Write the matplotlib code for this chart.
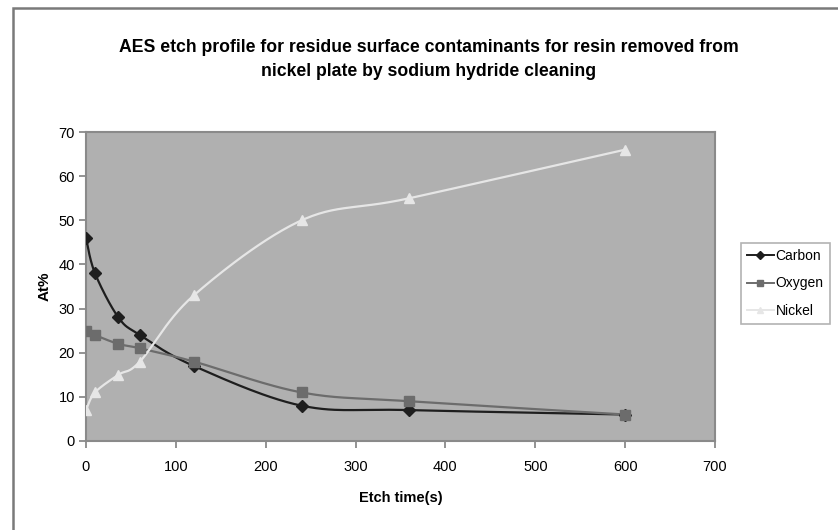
import numpy as np
import matplotlib
matplotlib.use('Agg')
import matplotlib.pyplot as plt
from matplotlib.patches import Rectangle

plt.rcParams['font.family'] = ['Liberation Sans', 'DejaVu Sans']

# etch time (s) and atomic %
etch_time = [0, 10, 36, 60, 120, 240, 360, 600]
carbon = [46, 38, 28, 24, 17, 8, 7, 6]
oxygen = [25, 24, 22, 21, 18, 11, 9, 6]
nickel = [7, 11, 15, 18, 33, 50, 55, 66]

title = ('AES etch profile for residue surface contaminants for resin removed from\n'
         'nickel plate by sodium hydride cleaning')


def smooth(x, y, n=30):
    # excel style smoothed line (catmull-rom through the points)
    x = np.asarray(x, float)
    y = np.asarray(y, float)
    px = np.concatenate([[x[0]], x, [x[-1]]])
    py = np.concatenate([[y[0]], y, [y[-1]]])
    xs, ys = [], []
    t = np.linspace(0, 1, n)
    for i in range(1, len(px) - 2):
        c1x = px[i] + (px[i + 1] - px[i - 1]) / 6
        c1y = py[i] + (py[i + 1] - py[i - 1]) / 6
        c2x = px[i + 1] - (px[i + 2] - px[i]) / 6
        c2y = py[i + 1] - (py[i + 2] - py[i]) / 6
        a = (1 - t) ** 3
        b = 3 * (1 - t) ** 2 * t
        c = 3 * (1 - t) * t ** 2
        d = t ** 3
        xs.extend(a * px[i] + b * c1x + c * c2x + d * px[i + 1])
        ys.extend(a * py[i] + b * c1y + c * c2y + d * py[i + 1])
    return xs, ys


fig = plt.figure(figsize=(8.38, 5.3), dpi=100)
ax = fig.add_axes([86 / 838, 1 - 441 / 530, 629 / 838, 309 / 530])
ax.set_facecolor('#b0b0b0')

series = [
    ('Carbon', carbon, '#1e1e1e', 'D', 6),
    ('Oxygen', oxygen, '#6c6c6c', 's', 6.5),
    ('Nickel', nickel, '#e6e6e6', '^', 7),
]
for name, vals, col, mk, ms in series:
    sx, sy = smooth(etch_time, vals)
    ax.plot(sx, sy, color=col, lw=1.6, zorder=3)
    ax.plot(etch_time, vals, ls='none', marker=mk, ms=ms, color=col, zorder=4)
    ax.plot([], [], color=col, lw=1.4, marker=mk, ms=ms - 2, label=name)

ax.set_xlim(0, 700)
ax.set_ylim(0, 70)
ax.set_xticks(range(0, 701, 100))
ax.set_yticks(range(0, 71, 10))
ax.tick_params(labelsize=10.5, length=5, color='#808080', width=1.2)
ax.tick_params(axis='x', pad=9)
ax.tick_params(axis='y', pad=3)
for s in ax.spines.values():
    s.set_color('#8a8a8a')
    s.set_linewidth(1.5)

ax.set_xlabel('Etch time(s)', fontsize=10.5, fontweight='bold', va='center')
ax.xaxis.set_label_coords(0.5, (441 - 498) / 309)
ax.set_ylabel('At%', fontsize=11, fontweight='bold', va='center')
ax.yaxis.set_label_coords((45 - 86) / 629, 0.5)

fig.text(429 / 838, 1 - 59.5 / 530, title, ha='center', va='center', fontsize=12.7,
         fontweight='bold', linespacing=1.6)

leg = ax.legend(loc='upper left', bbox_to_anchor=(741 / 838, 1 - 243 / 530),
                bbox_transform=fig.transFigure, fontsize=10, frameon=True,
                fancybox=False, handlelength=1.9, handletextpad=0.15,
                labelspacing=0.95, borderpad=0.45, borderaxespad=0)
leg.get_frame().set_edgecolor('#a0a0a0')
leg.get_frame().set_linewidth(1.2)

fig.patches.append(Rectangle((13 / 838, -0.2), 1.2, 1.2 - 8 / 530,
                             transform=fig.transFigure, fill=False,
                             edgecolor='#7a7a7a', lw=1.8))

fig.savefig('out.png', dpi=100)
